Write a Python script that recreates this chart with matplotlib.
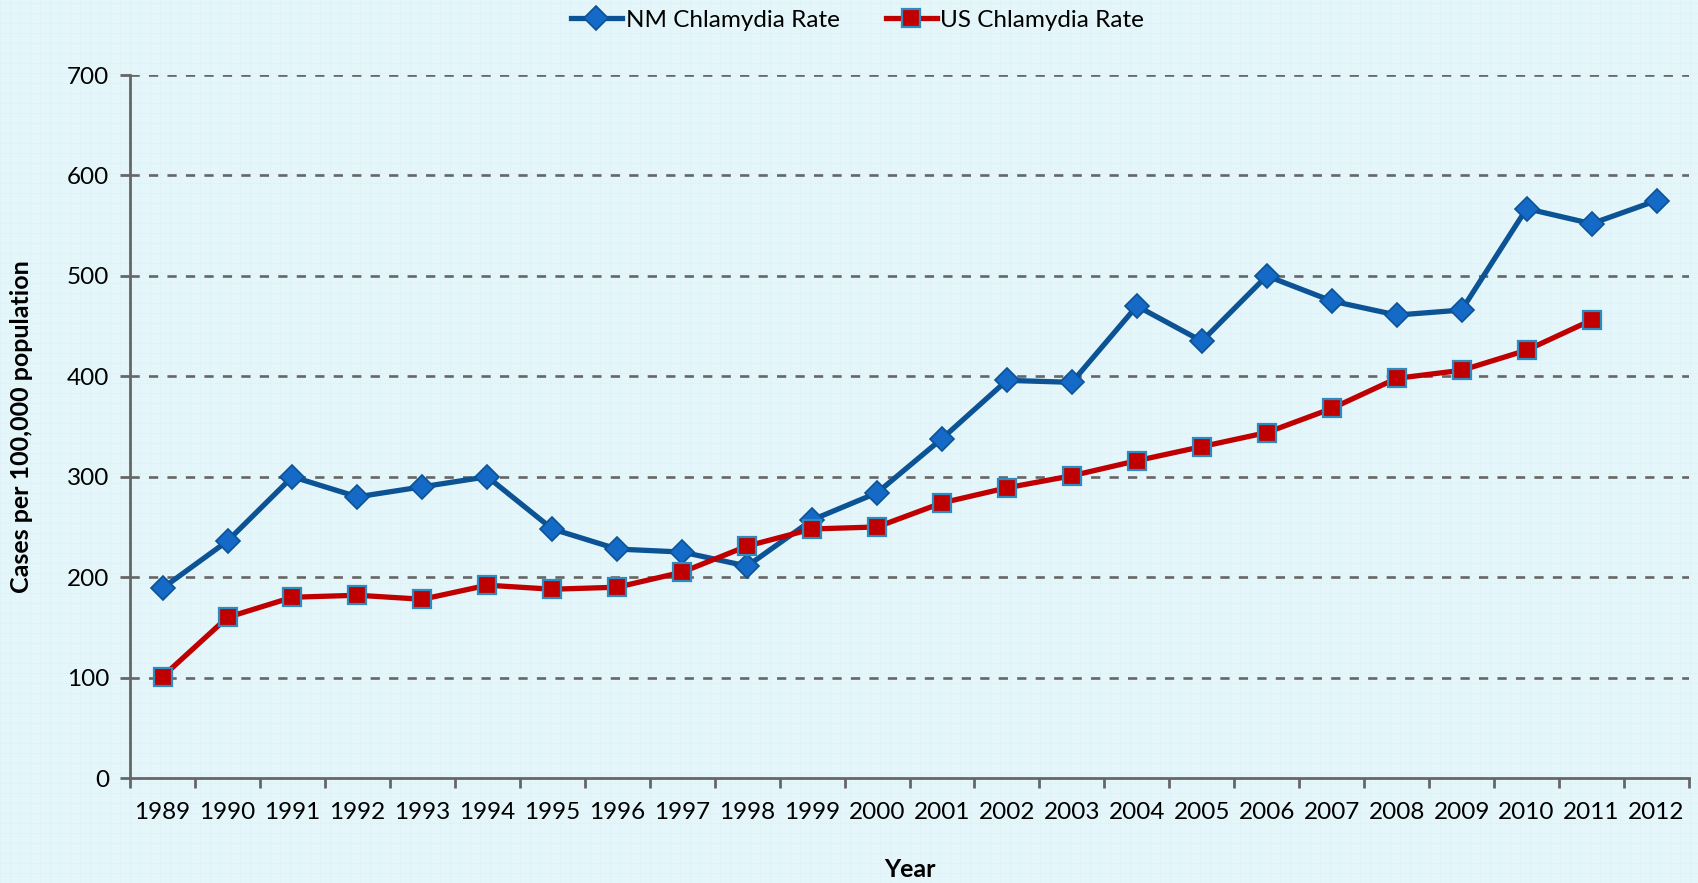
import matplotlib
matplotlib.use("Agg")
import matplotlib.pyplot as plt
import numpy as np

years = [str(y) for y in range(1989, 2013)]
nm_rate = [189, 236, 300, 280, 290, 300, 248, 228, 225, 211, 257, 284, 338, 396,
           394, 470, 435, 500, 475, 461, 466, 567, 552, 575]
us_rate = [101, 160, 180, 182, 178, 192, 188, 190, 205, 231, 248, 250, 274, 289,
           301, 316, 330, 344, 368, 398, 406, 426, 456]
y_ticks = [0, 100, 200, 300, 400, 500, 600, 700]

plt.rcParams['font.family'] = ['Lato', 'DejaVu Sans']

fig = plt.figure(figsize=(16.98, 8.83), dpi=100)
bg = '#E5F6FA'
fig.patch.set_facecolor(bg)

# faint background grid texture
for xx in np.arange(0, 1, 10 / 1698):
    fig.add_artist(plt.Line2D([xx, xx], [0, 1], transform=fig.transFigure,
                              color='#DCF1F6', lw=0.5, zorder=-10))
for yy in np.arange(0, 1, 10 / 883):
    fig.add_artist(plt.Line2D([0, 1], [yy, yy], transform=fig.transFigure,
                              color='#DCF1F6', lw=0.5, zorder=-10))

ax = fig.add_axes([0.0766, 0.1189, 0.9947 - 0.0766, 0.915 - 0.1189])
ax.set_facecolor('none')

x_nm = np.arange(len(nm_rate))
x_us = np.arange(len(us_rate))

ax.plot(x_nm, nm_rate, color='#0B5394', lw=3.8, marker='D', markersize=12,
        markerfacecolor='#1569C7', markeredgecolor='#0B5394', markeredgewidth=1.2,
        label='NM Chlamydia Rate', zorder=3)
ax.plot(x_us, us_rate, color='#C00000', lw=3.8, marker='s', markersize=12.5,
        markerfacecolor='#C00000', markeredgecolor='#2E8BC0', markeredgewidth=1.6,
        label='US Chlamydia Rate', zorder=4)

ax.set_xlim(-0.5, len(years) - 0.5)
ax.set_ylim(0, 700)
ax.set_yticks(y_ticks)
ax.set_yticklabels([str(v) for v in y_ticks], fontsize=17.5)
ax.set_xticks(np.arange(len(years)))
ax.set_xticklabels(years, fontsize=17.5)
ax.set_xticks(np.arange(-0.5, len(years), 1), minor=True)
ax.tick_params(axis='x', which='major', length=0, pad=17)
ax.tick_params(axis='x', which='minor', length=7, width=2, color='#666666', direction='out')
ax.tick_params(axis='y', length=7, width=2, color='#666666', direction='out', pad=8)

for yv in y_ticks[1:]:
    ax.axhline(yv, color='#666666', lw=1.9, ls=(0, (3.5, 3.5)), zorder=1)

for s in ['top', 'right']:
    ax.spines[s].set_visible(False)
for s in ['left', 'bottom']:
    ax.spines[s].set_color('#666666')
    ax.spines[s].set_linewidth(2)

ax.set_ylabel('Cases per 100,000 population', fontsize=18, fontweight='bold')
ax.set_xlabel('Year', fontsize=18, fontweight='bold')
ax.yaxis.set_label_coords(-0.0625, 0.5)
ax.xaxis.set_label_coords(0.5, -0.114)

leg = fig.legend(loc='center', bbox_to_anchor=(0.505, 0.977), ncol=2, frameon=False,
                 fontsize=17.5, handlelength=2.1, columnspacing=1.9, handletextpad=0.15)

fig.savefig('out.png', dpi=100, facecolor=bg)
